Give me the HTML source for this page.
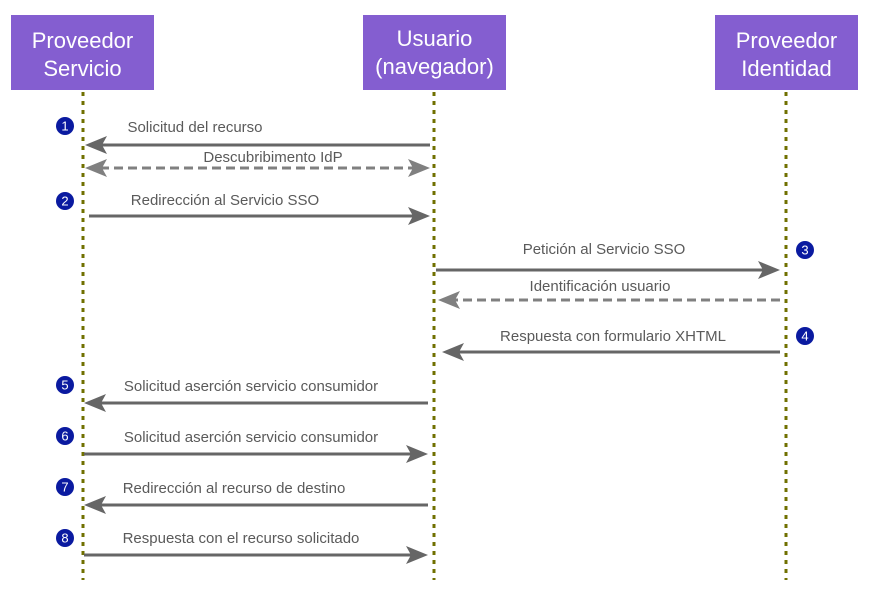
<!DOCTYPE html>
<html><head><meta charset="utf-8"><style>
html,body{margin:0;padding:0;background:#fff;}
svg{display:block;}
.lbl{font-family:"Liberation Sans",sans-serif;font-size:15px;fill:#5a5a5a;}
.box{font-family:"Liberation Sans",sans-serif;font-size:22px;fill:#fff;}
.num{font-family:"Liberation Sans",sans-serif;font-size:13px;fill:#fff;}
</style></head><body>
<svg width="869" height="590" viewBox="0 0 869 590" xmlns="http://www.w3.org/2000/svg">
<rect x="11" y="15" width="143" height="75" fill="#845ed0"/>
<rect x="363" y="15" width="143" height="75" fill="#845ed0"/>
<rect x="715" y="15" width="143" height="75" fill="#845ed0"/>
<text class="box" x="82.5" y="48" text-anchor="middle">Proveedor</text>
<text class="box" x="82.5" y="76" text-anchor="middle">Servicio</text>
<text class="box" x="434.5" y="46" text-anchor="middle">Usuario</text>
<text class="box" x="434.5" y="74" text-anchor="middle">(navegador)</text>
<text class="box" x="786.5" y="48" text-anchor="middle">Proveedor</text>
<text class="box" x="786.5" y="76" text-anchor="middle">Identidad</text>
<g stroke="#707000" stroke-width="3" stroke-dasharray="4,5">
<line x1="83" y1="92" x2="83" y2="580"/>
<line x1="434" y1="92" x2="434" y2="580"/>
<line x1="786" y1="92" x2="786" y2="580"/>
</g>
<g stroke="#666" stroke-width="3">
<line x1="430" y1="145" x2="98" y2="145"/>
<line x1="89" y1="216" x2="416" y2="216"/>
<line x1="436" y1="270" x2="766" y2="270"/>
<line x1="780" y1="352" x2="456" y2="352"/>
<line x1="428" y1="403" x2="98" y2="403"/>
<line x1="84" y1="454" x2="414" y2="454"/>
<line x1="428" y1="505" x2="98" y2="505"/>
<line x1="84" y1="555" x2="414" y2="555"/>
</g>
<g stroke="#808080" stroke-width="3" stroke-dasharray="9,5">
<line x1="100" y1="168" x2="414" y2="168"/>
<line x1="780" y1="300" x2="452" y2="300"/>
</g>
<g fill="#666">
<polygon points="85,145 107,136 102,145 107,154"/>
<polygon points="430,216 408,207 413,216 408,225"/>
<polygon points="780,270 758,261 763,270 758,279"/>
<polygon points="442,352 464,343 459,352 464,361"/>
<polygon points="84,403 106,394 101,403 106,412"/>
<polygon points="428,454 406,445 411,454 406,463"/>
<polygon points="84,505 106,496 101,505 106,514"/>
<polygon points="428,555 406,546 411,555 406,564"/>
</g>
<g fill="#808080">
<polygon points="85,168 107,159 102,168 107,177"/>
<polygon points="430,168 408,159 413,168 408,177"/>
<polygon points="438,300 460,291 455,300 460,309"/>
</g>
<text class="lbl" x="195" y="132" text-anchor="middle">Solicitud del recurso</text>
<text class="lbl" x="273" y="162" text-anchor="middle">Descubribimento IdP</text>
<text class="lbl" x="225" y="205" text-anchor="middle">Redirección al Servicio SSO</text>
<text class="lbl" x="604" y="254" text-anchor="middle">Petición al Servicio SSO</text>
<text class="lbl" x="600" y="291" text-anchor="middle">Identificación usuario</text>
<text class="lbl" x="613" y="341" text-anchor="middle">Respuesta con formulario XHTML</text>
<text class="lbl" x="251" y="391" text-anchor="middle">Solicitud aserción servicio consumidor</text>
<text class="lbl" x="251" y="442" text-anchor="middle">Solicitud aserción servicio consumidor</text>
<text class="lbl" x="234" y="493" text-anchor="middle">Redirección al recurso de destino</text>
<text class="lbl" x="241" y="543" text-anchor="middle">Respuesta con el recurso solicitado</text>
<g fill="#0a1aa0">
<circle cx="65" cy="126" r="9"/><circle cx="65" cy="201" r="9"/>
<circle cx="805" cy="250" r="9"/><circle cx="805" cy="336" r="9"/>
<circle cx="65" cy="385" r="9"/><circle cx="65" cy="436" r="9"/>
<circle cx="65" cy="487" r="9"/><circle cx="65" cy="538" r="9"/>
</g>
<g class="num" text-anchor="middle">
<text x="65" y="130.5">1</text><text x="65" y="205.5">2</text>
<text x="805" y="254.5">3</text><text x="805" y="340.5">4</text>
<text x="65" y="389.5">5</text><text x="65" y="440.5">6</text>
<text x="65" y="491.5">7</text><text x="65" y="542.5">8</text>
</g>
</svg>
</body></html>
